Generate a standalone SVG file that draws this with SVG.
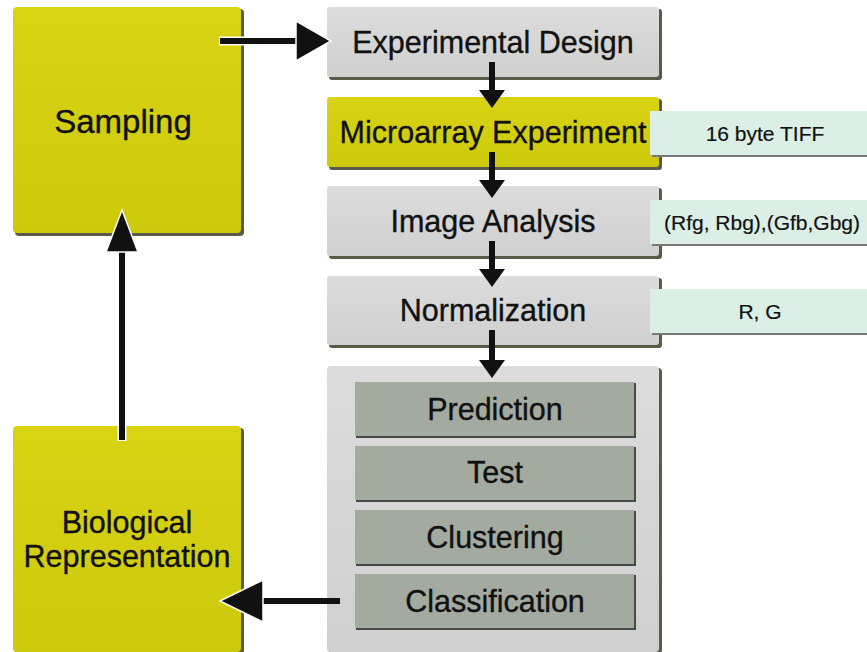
<svg xmlns="http://www.w3.org/2000/svg" width="867" height="652" viewBox="0 0 867 652">
  <style>
    text { font-family: "Liberation Sans", Arial, sans-serif; fill: #111; stroke: #111; stroke-width: 0.35; text-anchor: middle; dominant-baseline: central; }
    .shadow { fill: #5a5a4a; }
    .inner { fill: #a3aa9f; }
    .note { fill: #dcefe6; }
    .big { font-size: 33px; }
    .mid { font-size: 30.5px; }
    .small { font-size: 21px; stroke-width: 0.2; }
    .conn { stroke: #111; stroke-width: 6; fill: none; }
    .halo { stroke: #fff; stroke-width: 9; fill: none; }
  </style>
  <defs>
    <linearGradient id="gYellow" x1="0" y1="0" x2="0" y2="1">
      <stop offset="0" stop-color="#d8d414"/>
      <stop offset="1" stop-color="#cdc90c"/>
    </linearGradient>
    <linearGradient id="gGray" x1="0" y1="0" x2="0" y2="1">
      <stop offset="0" stop-color="#dcdcdc"/>
      <stop offset="1" stop-color="#d0d0d0"/>
    </linearGradient>
  </defs>

  <!-- Left column -->
  <g id="sampling">
    <rect class="shadow" x="15" y="9" width="229" height="227" rx="4"/>
    <rect x="13" y="7" width="228" height="226" rx="4" fill="url(#gYellow)"/>
    <text class="big" x="123" y="121">Sampling</text>
  </g>
  <g id="biological-representation">
    <rect class="shadow" x="15" y="428" width="229" height="226" rx="4"/>
    <rect x="13" y="426" width="228" height="226" rx="4" fill="url(#gYellow)"/>
    <text class="mid" x="127" y="522">Biological</text>
    <text class="mid" x="127" y="556">Representation</text>
  </g>

  <!-- Pipeline -->
  <g id="experimental-design">
    <rect class="shadow" x="329" y="9" width="333" height="71" rx="3"/>
    <rect x="327" y="7" width="332" height="70" rx="3" fill="url(#gGray)"/>
    <text class="mid" x="493" y="42">Experimental Design</text>
  </g>
  <g id="microarray-experiment">
    <rect class="shadow" x="329" y="99" width="333" height="71" rx="3"/>
    <rect x="327" y="97" width="332" height="70" rx="3" fill="url(#gYellow)"/>
    <text class="mid" x="493" y="132">Microarray Experiment</text>
  </g>
  <g id="image-analysis">
    <rect class="shadow" x="329" y="188" width="333" height="71" rx="3"/>
    <rect x="327" y="186" width="332" height="70" rx="3" fill="url(#gGray)"/>
    <text class="mid" x="493" y="221">Image Analysis</text>
  </g>
  <g id="normalization">
    <rect class="shadow" x="329" y="278" width="333" height="70" rx="3"/>
    <rect x="327" y="276" width="332" height="69" rx="3" fill="url(#gGray)"/>
    <text class="mid" x="493" y="310">Normalization</text>
  </g>

  <g id="analysis">
    <rect class="shadow" x="329" y="368" width="333" height="286" rx="4"/>
    <rect x="327" y="366" width="332" height="286" rx="4" fill="url(#gGray)"/>
    <g id="prediction">
      <rect fill="#4a4a44" x="356" y="383" width="280" height="55"/>
      <rect class="inner" x="355" y="382" width="279" height="54"/>
      <text class="mid" x="495" y="409">Prediction</text>
    </g>
    <g id="test">
      <rect fill="#4a4a44" x="356" y="447" width="280" height="55"/>
      <rect class="inner" x="355" y="446" width="279" height="54"/>
      <text class="mid" x="495" y="472">Test</text>
    </g>
    <g id="clustering">
      <rect fill="#4a4a44" x="356" y="511" width="280" height="55"/>
      <rect class="inner" x="355" y="510" width="279" height="54"/>
      <text class="mid" x="495" y="537">Clustering</text>
    </g>
    <g id="classification">
      <rect fill="#4a4a44" x="356" y="575" width="280" height="55"/>
      <rect class="inner" x="355" y="574" width="279" height="54"/>
      <text class="mid" x="495" y="601">Classification</text>
    </g>
  </g>

  <!-- Notes beside the pipeline -->
  <g id="note-tiff">
    <rect fill="#777" x="652" y="113" width="215" height="44"/>
    <rect class="note" x="650" y="111" width="217" height="44"/>
    <text class="small" x="765" y="133">16 byte TIFF</text>
  </g>
  <g id="note-rg-bg">
    <rect fill="#777" x="652" y="202" width="215" height="44"/>
    <rect class="note" x="650" y="200" width="217" height="44"/>
    <text class="small" x="762" y="222">(Rfg, Rbg),(Gfb,Gbg)</text>
  </g>
  <g id="note-rg">
    <rect fill="#777" x="652" y="291" width="215" height="44"/>
    <rect class="note" x="650" y="289" width="217" height="44"/>
    <text class="small" x="760" y="311">R, G</text>
  </g>

  <!-- Connectors -->
  <g id="connectors">
    <!-- Sampling to Experimental Design -->
    <line class="halo" x1="219" y1="41" x2="300" y2="41"/>
    <line class="conn" x1="220" y1="41" x2="300" y2="41"/>
    <polygon points="296,21 331,41 296,61" fill="#111" stroke="#fff" stroke-width="1.5"/>

    <!-- Downward flow through the pipeline -->
    <line class="conn" x1="492" y1="62" x2="492" y2="92"/>
    <polygon points="479,90 505,90 492,108" fill="#111"/>
    <line class="conn" x1="492" y1="152" x2="492" y2="182"/>
    <polygon points="479,180 505,180 492,198" fill="#111"/>
    <line class="conn" x1="492" y1="241" x2="492" y2="271"/>
    <polygon points="479,269 505,269 492,287" fill="#111"/>
    <line class="conn" x1="492" y1="330" x2="492" y2="362"/>
    <polygon points="479,360 505,360 492,378" fill="#111"/>

    <!-- Biological Representation back up to Sampling -->
    <line class="halo" x1="122" y1="441" x2="122" y2="245"/>
    <line class="conn" x1="122" y1="440" x2="122" y2="245"/>
    <polygon points="106,252 122,210 138,252" fill="#111" stroke="#fff" stroke-width="1.5"/>

    <!-- Classification to Biological Representation -->
    <line class="conn" x1="340" y1="601" x2="258" y2="601"/>
    <polygon points="263,580 220,601 263,622" fill="#111" stroke="#fff" stroke-width="1.5"/>
  </g>
</svg>
